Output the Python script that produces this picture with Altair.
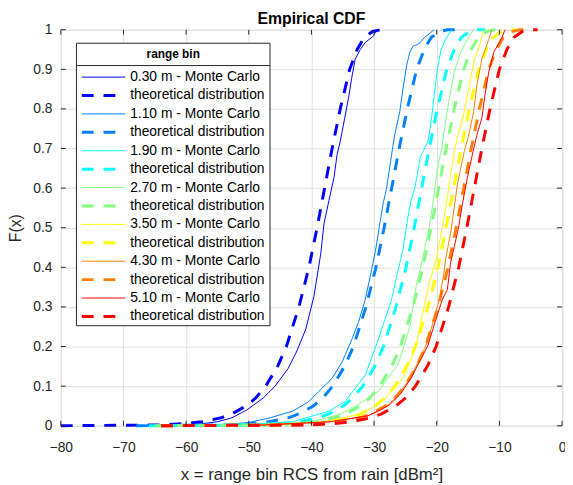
import altair as alt
import pandas as pd

FONT = "Liberation Sans"
AX = "#262626"

bins = ["0.30", "1.10", "1.90", "2.70", "3.50", "4.30", "5.10"]
colors = ["#0000ff", "#0080ff", "#00ffff", "#80ff80", "#ffff00", "#ff8000", "#ff0000"]

x_ticks = [-80, -70, -60, -50, -40, -30, -20, -10, 0]
y_ticks = [0, 0.1, 0.2, 0.3, 0.4, 0.5, 0.6, 0.7, 0.8, 0.9, 1.0]

# theoretical distribution curves (F levels shared, x read per bin)
theo_F = [0, 0.002, 0.005, 0.01, 0.02, 0.03, 0.05, 0.07, 0.1, 0.15, 0.2, 0.3, 0.4,
          0.5, 0.6, 0.7, 0.8, 0.9, 0.95, 0.98, 0.995, 1.0, 1.0]
theo_x_030 = [-80, -64.5, -60.5, -57.5, -54.4, -52.7, -50.4, -48.9, -47.3, -45.4, -44.0, -42.0, -40.4,
              -39.1, -37.9, -36.7, -35.4, -33.9, -32.7, -31.6, -30.3, -29.0, -27.6]
theo_x_110 = [-68, -53.8, -49.8, -46.8, -43.7, -42.0, -39.7, -38.2, -36.6, -34.7, -33.3, -31.3, -29.7,
              -28.4, -27.2, -26.0, -24.7, -23.2, -22.0, -20.9, -19.6, -18.3, -17.0]
theo_x_190 = [-66, -49.0, -45.0, -42.0, -38.9, -37.2, -34.9, -33.4, -31.8, -29.9, -28.5, -26.5, -24.9,
              -23.6, -22.4, -21.2, -19.9, -18.4, -17.2, -16.1, -14.8, -13.5, -12.3]
theo_x_270 = [-65, -46.3, -42.3, -39.3, -36.2, -34.5, -32.2, -30.7, -29.1, -27.2, -25.8, -23.8, -22.2,
              -20.9, -19.7, -18.5, -17.2, -15.7, -14.5, -13.4, -12.1, -10.8, -9.4]
theo_x_350 = [-64, -43.9, -39.9, -36.9, -33.8, -32.1, -29.8, -28.3, -26.7, -24.8, -23.4, -21.4, -19.8,
              -18.5, -17.3, -16.1, -14.8, -13.3, -12.1, -11.0, -9.7, -8.4, -7.5]
theo_x_430 = [-64, -42.3, -38.3, -35.3, -32.2, -30.5, -28.2, -26.7, -25.1, -23.2, -21.8, -19.8, -18.2,
              -16.9, -15.7, -14.5, -13.2, -11.7, -10.5, -9.4, -8.1, -6.8, -5.4]
theo_x_510 = [-64, -40.6, -36.6, -33.6, -30.5, -28.8, -26.5, -25.0, -23.4, -21.5, -20.1, -18.1, -16.5,
              -15.2, -14.0, -12.8, -11.5, -10.0, -8.8, -7.7, -6.4, -5.1, -3.9]

# Monte Carlo empirical CDFs
mc_030_x = [-62.0, -57.5, -55.0, -52.7, -50.3, -47.7, -45.8, -43.7, -42.4, -40.9, -39.6, -38.5, -38.0,
            -37.2, -36.4, -35.9, -35.4, -34.7, -34.0, -33.6, -33.0, -32.2, -31.4, -30.1, -29.6]
mc_030_F = [0.0, 0.005, 0.01, 0.02, 0.04, 0.07, 0.10, 0.145, 0.186, 0.244, 0.327, 0.436, 0.51,
            0.569, 0.627, 0.685, 0.718, 0.776, 0.835, 0.876, 0.926, 0.95, 0.968, 0.984, 1.0]
mc_110_x = [-57.0, -50.3, -46.6, -43.0, -40.5, -38.8, -36.7, -35.1, -33.5, -32.5, -31.4, -30.4, -29.8,
            -29.0, -28.5, -28.0, -27.2, -26.7, -25.9, -25.4, -24.8, -24.3, -23.8, -22.8, -22.0, -21.2, -20.4]
mc_110_F = [0.0, 0.0075, 0.02, 0.037, 0.06, 0.087, 0.12, 0.161, 0.22, 0.261, 0.319, 0.394, 0.44,
            0.519, 0.565, 0.60, 0.685, 0.735, 0.793, 0.85, 0.91, 0.943, 0.958, 0.965, 0.98, 0.99, 1.0]
mc_190_x = [-55.0, -43.0, -37.2, -34.6, -31.4, -29.3, -27.2, -26.4, -25.4, -24.6, -24.1, -23.5, -22.6,
            -21.4, -20.9, -20.4, -19.9, -19.3, -18.6, -17.6]
mc_190_F = [0.0, 0.01, 0.037, 0.062, 0.128, 0.219, 0.319, 0.377, 0.444, 0.527, 0.569, 0.60, 0.68,
            0.718, 0.768, 0.835, 0.90, 0.95, 0.976, 1.0]
mc_270_x = [-52.0, -40.0, -35.6, -32.5, -29.3, -27.1, -26.2, -25.2, -24.3, -23.8, -23.3, -22.3, -21.2,
            -20.4, -19.9, -19.2, -18.6, -18.0, -17.2, -16.2, -15.1, -14.1]
mc_270_F = [0.0, 0.01, 0.028, 0.053, 0.087, 0.136, 0.153, 0.203, 0.25, 0.30, 0.352, 0.419, 0.502,
            0.585, 0.65, 0.70, 0.768, 0.826, 0.893, 0.943, 0.976, 1.0]
mc_350_x = [-50.0, -38.0, -32.0, -29.5, -27.5, -25.4, -24.3, -23.3, -22.3, -21.2, -20.1, -19.6, -18.8,
            -18.0, -17.2, -16.5, -15.7, -14.9, -14.1, -13.0, -12.5]
mc_350_F = [0.0, 0.01, 0.03, 0.053, 0.08, 0.12, 0.16, 0.203, 0.28, 0.36, 0.419, 0.46, 0.527,
            0.61, 0.693, 0.74, 0.785, 0.85, 0.918, 0.968, 1.0]
mc_430_x = [-50.0, -37.0, -31.0, -29.3, -27.7, -26.0, -24.3, -23.0, -21.7, -20.6, -19.6, -18.9, -18.6,
            -17.8, -17.2, -16.7, -15.6, -15.0, -14.1, -13.6, -12.8, -11.7, -11.2]
mc_430_F = [0.0, 0.01, 0.025, 0.037, 0.053, 0.08, 0.12, 0.16, 0.203, 0.26, 0.319, 0.38, 0.419,
            0.485, 0.552, 0.61, 0.693, 0.727, 0.793, 0.86, 0.926, 0.976, 1.0]
mc_510_x = [-50.0, -37.0, -31.0, -29.0, -27.5, -25.8, -24.1, -22.8, -21.4, -20.3, -19.1, -18.3, -17.8,
            -17.2, -16.5, -15.9, -15.1, -14.2, -13.5, -12.8, -12.3, -11.7, -10.9, -9.6, -9.1]
mc_510_F = [0.0, 0.01, 0.025, 0.04, 0.053, 0.08, 0.12, 0.16, 0.203, 0.26, 0.319, 0.344, 0.411,
            0.452, 0.502, 0.56, 0.627, 0.693, 0.74, 0.776, 0.835, 0.893, 0.943, 0.98, 1.0]

theo_x = [theo_x_030, theo_x_110, theo_x_190, theo_x_270, theo_x_350, theo_x_430, theo_x_510]
mc_x = [mc_030_x, mc_110_x, mc_190_x, mc_270_x, mc_350_x, mc_430_x, mc_510_x]
mc_F = [mc_030_F, mc_110_F, mc_190_F, mc_270_F, mc_350_F, mc_430_F, mc_510_F]

W, H = 507.5, 401
DASH = [12, 10]

X = alt.X("x:Q", scale=alt.Scale(domain=[-80, 0], nice=False),
          axis=alt.Axis(values=x_ticks, grid=True, gridColor="#dfdfdf", gridWidth=1,
                        domain=False, ticks=False, tickSize=0, labelFlush=False,
                        labelPadding=15, labelFont=FONT, labelFontSize=14, labelColor=AX,
                        title="x = range bin RCS from rain [dBm²]", titleFont=FONT,
                        titleFontSize=17, titleFontWeight="normal", titleColor=AX,
                        titleX=W / 2, titleY=54, titleAlign="center",
                        titleBaseline="alphabetic"))
Y = alt.Y("F:Q", scale=alt.Scale(domain=[0, 1], nice=False),
          axis=alt.Axis(values=y_ticks, format=".1~f", grid=True, gridColor="#dfdfdf",
                        gridWidth=1, domain=False, ticks=False, tickSize=0, labelFlush=False,
                        labelPadding=9, labelFont=FONT, labelFontSize=14, labelColor=AX,
                        title="F(x)", titleFont=FONT, titleFontSize=16,
                        titleFontWeight="normal", titleColor=AX, titleX=-41, titleY=H / 2,
                        titleAngle=270, titleAlign="center", titleBaseline="alphabetic"))

layers = []
for k in range(len(bins)):
    dmc = pd.DataFrame({"x": mc_x[k], "F": mc_F[k], "i": range(len(mc_x[k]))})
    layers.append(alt.Chart(dmc).mark_line(color=colors[k], strokeWidth=1)
                  .encode(x=X, y=Y, order="i:Q"))
    dth = pd.DataFrame({"x": theo_x[k], "F": theo_F, "i": range(len(theo_F))})
    layers.append(alt.Chart(dth).mark_line(color=colors[k], strokeWidth=3, strokeDash=DASH)
                  .encode(x=X, y=Y, order="i:Q"))

# inward box ticks
tx = pd.DataFrame({"x": x_ticks})
ty = pd.DataFrame({"F": y_ticks})
layers.append(alt.Chart(tx).mark_rule(color=AX, strokeWidth=1)
              .encode(x=X, y=alt.value(H - 5), y2=alt.value(H)))
layers.append(alt.Chart(tx).mark_rule(color=AX, strokeWidth=1)
              .encode(x=X, y=alt.value(0), y2=alt.value(5)))
layers.append(alt.Chart(ty).mark_rule(color=AX, strokeWidth=1)
              .encode(y=Y, x=alt.value(0), x2=alt.value(5)))
layers.append(alt.Chart(ty).mark_rule(color=AX, strokeWidth=1)
              .encode(y=Y, x=alt.value(W - 5), x2=alt.value(W)))

# legend box
one = pd.DataFrame({"a": [0]})
LX0, LX1, LY0, LY1 = 15.8, 211.8, 13.7, 299.7
layers.append(alt.Chart(one).mark_rect(fill="white", stroke=AX, strokeWidth=1)
              .encode(x=alt.value(LX0), x2=alt.value(LX1), y=alt.value(LY0), y2=alt.value(LY1)))
layers.append(alt.Chart(one).mark_text(text="range bin", font=FONT, fontSize=12,
                                       fontWeight="bold", color="black", align="center",
                                       baseline="middle")
              .encode(x=alt.value((LX0 + LX1) / 2), y=alt.value(25)))
layers.append(alt.Chart(one).mark_rule(color=AX, strokeWidth=1)
              .encode(x=alt.value(LX0), x2=alt.value(LX1), y=alt.value(36.3)))
row0, step = 48.0, 18.64
for k in range(len(bins)):
    for j in range(2):
        yy = row0 + (2 * k + j) * step
        if j == 0:
            lab = f"{bins[k]} m - Monte Carlo"
            ln = alt.Chart(one).mark_rule(color=colors[k], strokeWidth=1)
        else:
            lab = "theoretical distribution"
            ln = alt.Chart(one).mark_rule(color=colors[k], strokeWidth=3, strokeDash=DASH)
        layers.append(ln.encode(x=alt.value(21.2), x2=alt.value(65.2), y=alt.value(yy)))
        layers.append(alt.Chart(one).mark_text(text=lab, font=FONT, fontSize=14, color="black",
                                               align="left", baseline="middle")
                      .encode(x=alt.value(70.2), y=alt.value(yy)))

chart = alt.layer(*layers).properties(
    width=W, height=H,
    title=alt.TitleParams(text="Empirical CDF", font=FONT, fontSize=16, fontWeight="bold",
                          color="black", anchor="middle", offset=-4),
    autosize=alt.AutoSizeParams(type="none"),
    padding={"left": 53.5, "top": 19, "right": 3, "bottom": 55},
).configure_view(stroke=AX, strokeWidth=1).configure(background="white")

chart.save("out.html", embed_options={"renderer": "svg", "actions": False})
